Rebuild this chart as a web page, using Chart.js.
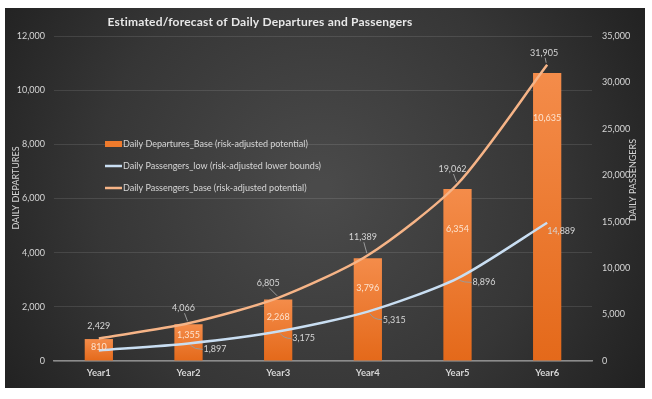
<!DOCTYPE html>
<html>
<head>
<meta charset="utf-8">
<script src="https://cdn.jsdelivr.net/npm/chart.js@4.4.1/dist/chart.umd.min.js"></script>
<style>
html,body{margin:0;padding:0;background:#ffffff;}
#wrap{width:652px;height:399px;position:relative;}
canvas{display:block;}
</style>
</head>
<body>
<div id="wrap"><canvas id="c" width="652" height="399"></canvas></div>
<script>
// ---- data ----
const categories = ['Year1', 'Year2', 'Year3', 'Year4', 'Year5', 'Year6'];
const departuresBase = [810, 1355, 2268, 3796, 6354, 10635];
const passengersLow = [1133, 1897, 3175, 5315, 8896, 14889];
const passengersBase = [2429, 4066, 6805, 11389, 19062, 31905];
const seriesNames = [
  'Daily Departures_Base (risk-adjusted potential)',
  'Daily Passengers_low (risk-adjusted lower bounds)',
  'Daily Passengers_base (risk-adjusted potential)'
];
const titleText = 'Estimated/forecast of Daily Departures and Passengers';
const leftAxisTitle = 'DAILY DEPARTURES';
const rightAxisTitle = 'DAILY PASSENGERS';
const leftMax = 12000, leftStep = 2000;
const rightMax = 35000, rightStep = 5000;

// ---- style ----
const FONT = 'Lato, "Open Sans", sans-serif';
const TXT = '#d6d6d6';
const ORANGE_LINE = '#f6b487';
const BLUE_LINE = '#c9def2';
// label placement styles (pixel offsets from the drawn point)
const barLabelDrop = [8, 11, 18, 30, 40, 45];
const baseLabelOff = [[0,-12,false],[-5,-15,true],[-10,-15,true],[-5,-18,true],[-5,-15,true],[-3,-12,true]];
const lowLabelOff = [null,[15,6,true],[14,7,true],[15,8,true],[15,4,true],[0,8,false]];

const fmt = v => v.toLocaleString('en-US');

const bgPlugin = {
  id: 'bg',
  beforeDraw(chart) {
    const ctx = chart.ctx;
    ctx.save();
    const g = ctx.createRadialGradient(320, 190, 10, 320, 190, 400);
    g.addColorStop(0, '#4a4a4a');
    g.addColorStop(0.55, '#363636');
    g.addColorStop(1, '#1e1e1e');
    ctx.fillStyle = g;
    ctx.fillRect(5, 8, 640, 380);
    // title
    ctx.fillStyle = '#e8e8e8';
    ctx.font = 'bold 12px ' + FONT;
    try { ctx.letterSpacing = '0.2px'; } catch (e) {}
    ctx.textAlign = 'center';
    ctx.textBaseline = 'middle';
    ctx.fillText(titleText, 260, 22);
    try { ctx.letterSpacing = '0px'; } catch (e) {}
    // axis titles
    ctx.font = '9px ' + FONT;
    ctx.fillStyle = TXT;
    ctx.translate(16, 188);
    ctx.rotate(-Math.PI / 2);
    ctx.fillText(leftAxisTitle, 0, 0);
    ctx.setTransform(1,0,0,1,0,0);
    ctx.translate(633, 180);
    ctx.rotate(-Math.PI / 2);
    ctx.fillText(rightAxisTitle, 0, 0);
    ctx.restore();
  }
};

const labelPlugin = {
  id: 'labels',
  afterDatasetsDraw(chart) {
    const ctx = chart.ctx;
    ctx.save();
    ctx.font = '9px ' + FONT;
    ctx.textBaseline = 'middle';
    // bar labels
    const mb = chart.getDatasetMeta(0);
    ctx.fillStyle = '#fde3cf';
    ctx.textAlign = 'center';
    mb.data.forEach((el, i) => {
      ctx.fillText(fmt(departuresBase[i]), el.x, el.y + barLabelDrop[i]);
    });
    // passengers base labels (above)
    const m2 = chart.getDatasetMeta(2);
    m2.data.forEach((el, i) => {
      const o = baseLabelOff[i];
      const lx = el.x + o[0], ly = el.y + o[1];
      if (o[2]) {
        ctx.strokeStyle = '#9a9a9a';
        ctx.lineWidth = 1;
        ctx.beginPath();
        ctx.moveTo(lx + 1, ly + 5);
        ctx.lineTo(el.x - 1, el.y - 2);
        ctx.stroke();
      }
      ctx.fillStyle = TXT;
      ctx.textAlign = 'center';
      ctx.fillText(fmt(passengersBase[i]), lx, ly);
    });
    // passengers low labels (right / below)
    const m1 = chart.getDatasetMeta(1);
    m1.data.forEach((el, i) => {
      const o = lowLabelOff[i];
      if (!o) return;
      const lx = el.x + o[0], ly = el.y + o[1];
      if (o[2]) {
        ctx.strokeStyle = '#9a9a9a';
        ctx.lineWidth = 1;
        ctx.beginPath();
        ctx.moveTo(el.x + 2, el.y + 2);
        ctx.quadraticCurveTo(el.x + 6, ly, lx - 1, ly);
        ctx.stroke();
      }
      ctx.fillStyle = TXT;
      ctx.textAlign = 'left';
      ctx.fillText(fmt(passengersLow[i]), lx, ly);
    });
    ctx.restore();
  }
};

const legendPlugin = {
  id: 'customLegend',
  afterDraw(chart) {
    const ctx = chart.ctx;
    ctx.save();
    ctx.font = '9px ' + FONT;
    ctx.textBaseline = 'middle';
    ctx.textAlign = 'left';
    const x0 = 105, ys = [144, 166, 188];
    chart.data.datasets.forEach((ds, i) => {
      const y = ys[i];
      if (ds.type === 'bar') {
        ctx.fillStyle = '#ee7a2c';
        ctx.fillRect(x0, y - 3, 17, 6);
      } else {
        ctx.strokeStyle = ds.borderColor;
        ctx.lineWidth = 2.5;
        ctx.beginPath();
        ctx.moveTo(x0, y);
        ctx.lineTo(x0 + 17, y);
        ctx.stroke();
      }
      ctx.fillStyle = TXT;
      ctx.fillText(ds.label, x0 + 18, y);
    });
    ctx.restore();
  }
};

function barGradient(context) {
  const chart = context.chart;
  const ys = chart.scales.y;
  if (!ys || context.type !== 'data') return '#ee7a2c';
  const top = ys.getPixelForValue(context.raw);
  const bot = ys.getPixelForValue(0);
  if (!isFinite(top) || !isFinite(bot) || top === bot) return '#ee7a2c';
  const g = chart.ctx.createLinearGradient(0, top, 0, bot);
  g.addColorStop(0, '#f48c4a');
  g.addColorStop(1, '#e4691a');
  return g;
}

new Chart(document.getElementById('c'), {
  data: {
    labels: categories,
    datasets: [
      {
        type: 'bar',
        label: seriesNames[0],
        data: departuresBase,
        yAxisID: 'y',
        backgroundColor: barGradient,
        borderWidth: 0,
        barPercentage: 0.315,
        categoryPercentage: 1,
        order: 3
      },
      {
        type: 'line',
        label: seriesNames[1],
        data: passengersLow,
        yAxisID: 'y1',
        borderColor: BLUE_LINE,
        borderWidth: 2.5,
        pointRadius: 0,
        tension: 0.25,
        fill: false,
        order: 1
      },
      {
        type: 'line',
        label: seriesNames[2],
        data: passengersBase,
        yAxisID: 'y1',
        borderColor: ORANGE_LINE,
        borderWidth: 2.5,
        pointRadius: 0,
        tension: 0.25,
        fill: false,
        order: 2
      }
    ]
  },
  options: {
    responsive: false,
    animation: false,
    devicePixelRatio: 1,
    layout: { padding: { top: 36, left: 0, right: 0, bottom: 0 } },
    plugins: {
      legend: { display: false },
      tooltip: { enabled: false },
      title: { display: false }
    },
    scales: {
      x: {
        grid: { display: false, drawTicks: false },
        border: { display: true, color: '#8c8c8c', width: 1.5 },
        ticks: { color: TXT, font: { family: FONT, size: 9.5, weight: 'bold' }, padding: 6 },
        afterFit(s) { s.height = 38; }
      },
      y: {
        position: 'left',
        min: 0, max: leftMax,
        ticks: { stepSize: leftStep, color: TXT, font: { family: FONT, size: 9 }, padding: 9,
          callback: v => fmt(v) },
        grid: { color: 'rgba(255,255,255,0.11)', drawTicks: false, lineWidth: 1 },
        border: { display: false },
        afterFit(s) { s.width = 54; }
      },
      y1: {
        position: 'right',
        min: 0, max: rightMax,
        ticks: { stepSize: rightStep, color: TXT, font: { family: FONT, size: 9 }, padding: 10,
          callback: v => fmt(v) },
        grid: { display: false, drawTicks: false },
        border: { display: false },
        afterFit(s) { s.width = 60; }
      }
    }
  },
  plugins: [bgPlugin, labelPlugin, legendPlugin]
});
</script>
</body>
</html>
